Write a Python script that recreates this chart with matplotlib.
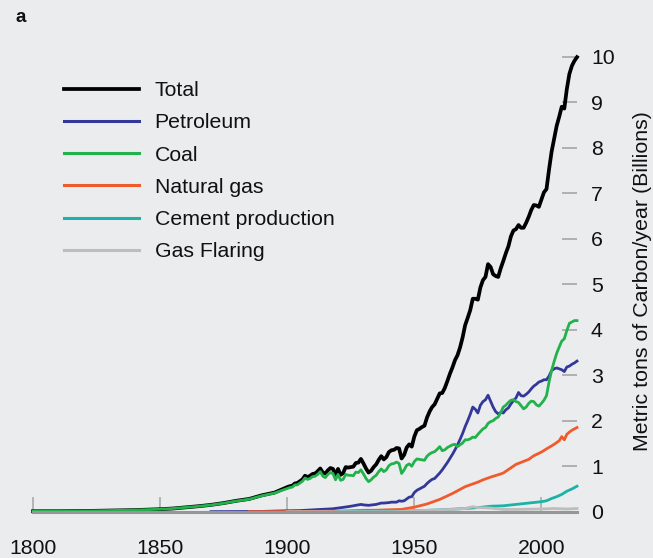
import matplotlib
matplotlib.use("Agg")
import matplotlib.pyplot as plt

plt.rcParams['font.family'] = ['Liberation Sans', 'DejaVu Sans']

# ---------------- data (billions of metric tons of carbon / year) ----------------
early_years = [1800, 1810, 1820, 1830, 1840, 1850, 1855, 1860, 1865, 1870, 1875, 1880, 1885, 1890, 1895]
annual_years = list(range(1900, 2015))

total_early = [0.01, 0.01, 0.015, 0.025, 0.035, 0.055, 0.07, 0.095, 0.12, 0.15, 0.19, 0.24, 0.28, 0.36, 0.42]
total_annual = [
    0.54, 0.56, 0.57, 0.62, 0.63, 0.67, 0.71, 0.79, 0.76, 0.79,
    0.83, 0.84, 0.89, 0.95, 0.86, 0.84, 0.91, 0.96, 0.94, 0.81,
    0.94, 0.81, 0.85, 0.98, 0.97, 0.98, 0.99, 1.07, 1.08, 1.16,
    1.06, 0.95, 0.86, 0.90, 0.98, 1.04, 1.14, 1.22, 1.15, 1.20,
    1.31, 1.35, 1.36, 1.40, 1.39, 1.17, 1.25, 1.41, 1.48, 1.43,
    1.65, 1.79, 1.82, 1.86, 1.89, 2.07, 2.20, 2.30, 2.36, 2.48,
    2.60, 2.61, 2.72, 2.87, 3.03, 3.17, 3.33, 3.44, 3.61, 3.83,
    4.10, 4.26, 4.43, 4.68, 4.68, 4.66, 4.93, 5.09, 5.16, 5.44,
    5.38, 5.22, 5.18, 5.16, 5.35, 5.51, 5.68, 5.83, 6.05, 6.18,
    6.21, 6.30, 6.24, 6.24, 6.35, 6.48, 6.63, 6.74, 6.73, 6.70,
    6.86, 7.02, 7.09, 7.52, 7.91, 8.20, 8.48, 8.68, 8.90, 8.86,
    9.29, 9.62, 9.80, 9.91, 9.99]

coal_early = [0.01, 0.01, 0.015, 0.025, 0.035, 0.055, 0.07, 0.094, 0.118, 0.147, 0.186, 0.235, 0.274, 0.35, 0.41]
coal_annual = [
    0.51, 0.53, 0.54, 0.59, 0.59, 0.63, 0.67, 0.74, 0.71, 0.73,
    0.77, 0.78, 0.82, 0.88, 0.78, 0.75, 0.82, 0.86, 0.84, 0.70,
    0.82, 0.69, 0.71, 0.82, 0.80, 0.80, 0.79, 0.87, 0.86, 0.92,
    0.83, 0.73, 0.66, 0.70, 0.76, 0.80, 0.88, 0.94, 0.88, 0.92,
    1.01, 1.05, 1.06, 1.09, 1.06, 0.84, 0.92, 1.02, 1.05, 1.00,
    1.10, 1.16, 1.15, 1.14, 1.13, 1.22, 1.27, 1.30, 1.32, 1.37,
    1.43, 1.34, 1.36, 1.41, 1.44, 1.47, 1.48, 1.43, 1.47, 1.51,
    1.58, 1.58, 1.60, 1.64, 1.63, 1.70, 1.76, 1.82, 1.85, 1.94,
    1.98, 2.00, 2.05, 2.08, 2.18, 2.30, 2.34, 2.40, 2.45, 2.46,
    2.42, 2.40, 2.33, 2.26, 2.30, 2.38, 2.43, 2.42, 2.35, 2.32,
    2.38, 2.45, 2.55, 2.85, 3.10, 3.30, 3.48, 3.62, 3.75, 3.80,
    3.98, 4.14, 4.17, 4.20, 4.20]

petroleum_years = [1870, 1880, 1890, 1900, 1905, 1910, 1913, 1915, 1918, 1920, 1922, 1925, 1928,
                   1929, 1930, 1932, 1935, 1937, 1938, 1940, 1941, 1943, 1944, 1945, 1946, 1947,
                   1948, 1949, 1950, 1951, 1952, 1953, 1954, 1955, 1956, 1957, 1958, 1959, 1960,
                   1961, 1962, 1963, 1964, 1965, 1966, 1967, 1968, 1969, 1970, 1971, 1972, 1973,
                   1974, 1975, 1976, 1977, 1978, 1979, 1980, 1981, 1982, 1983, 1984, 1985, 1986,
                   1987, 1988, 1989, 1990, 1991, 1992, 1993, 1994, 1995, 1996, 1997, 1998, 1999,
                   2000, 2001, 2002, 2003, 2004, 2005, 2006, 2007, 2008, 2009, 2010, 2011, 2012,
                   2013, 2014]
petroleum_vals = [0.001, 0.003, 0.006, 0.02, 0.025, 0.04, 0.05, 0.055, 0.065, 0.08, 0.095, 0.12, 0.15,
                  0.16, 0.15, 0.14, 0.16, 0.19, 0.19, 0.20, 0.21, 0.21, 0.24, 0.23, 0.24, 0.28,
                  0.32, 0.33, 0.42, 0.47, 0.50, 0.53, 0.56, 0.62, 0.67, 0.71, 0.73, 0.79, 0.85,
                  0.92, 1.00, 1.08, 1.17, 1.26, 1.36, 1.47, 1.59, 1.72, 1.87, 2.00, 2.14, 2.30,
                  2.25, 2.17, 2.34, 2.42, 2.46, 2.56, 2.43, 2.30, 2.20, 2.15, 2.18, 2.17, 2.24,
                  2.28, 2.37, 2.44, 2.50, 2.62, 2.55, 2.54, 2.58, 2.63, 2.70, 2.76, 2.80, 2.85,
                  2.87, 2.90, 2.90, 2.98, 3.10, 3.14, 3.16, 3.14, 3.12, 3.08, 3.18, 3.20, 3.24,
                  3.27, 3.31]

gas_years = [1885, 1900, 1910, 1920, 1925, 1930, 1935, 1940, 1945, 1950, 1955, 1960, 1965, 1970,
             1975, 1977, 1980, 1984, 1985, 1990, 1995, 1997, 2000, 2002, 2005, 2007, 2008, 2009,
             2010, 2011, 2012, 2013, 2014]
gas_vals = [0.001, 0.003, 0.008, 0.013, 0.02, 0.03, 0.032, 0.042, 0.05, 0.10, 0.17, 0.27, 0.40, 0.55,
            0.65, 0.70, 0.76, 0.83, 0.85, 1.04, 1.15, 1.23, 1.31, 1.38, 1.48, 1.56, 1.65, 1.58,
            1.70, 1.75, 1.79, 1.82, 1.85]

cement_years = [1920, 1930, 1940, 1950, 1960, 1970, 1975, 1980, 1985, 1990, 1995, 2000, 2002,
                2004, 2006, 2008, 2010, 2012, 2014]
cement_vals = [0.005, 0.01, 0.01, 0.02, 0.04, 0.07, 0.09, 0.12, 0.13, 0.16, 0.19, 0.22, 0.24,
               0.29, 0.33, 0.38, 0.45, 0.50, 0.56]

flaring_years = [1900, 1940, 1945, 1950, 1955, 1960, 1965, 1970, 1973, 1975, 1980, 1985, 1990,
                 2000, 2005, 2010, 2014]
flaring_vals = [0.0, 0.0, 0.005, 0.02, 0.03, 0.04, 0.05, 0.07, 0.11, 0.09, 0.08, 0.05, 0.05,
                0.06, 0.07, 0.06, 0.07]

x_ticks = [1800, 1850, 1900, 1950, 2000]
y_ticks = list(range(0, 11))

# ---------------- figure ----------------
BG = '#EBECEE'
fig = plt.figure(figsize=(6.53, 5.58), dpi=100, facecolor=BG)
ax = fig.add_axes([33 / 653, 46.3 / 558, 544 / 653, 455 / 558], facecolor=BG)

lw = 2.0
ax.plot(early_years + annual_years, total_early + total_annual, color='#000000', lw=2.7,
        label='Total', clip_on=False)
ax.plot(petroleum_years, petroleum_vals, color='#34379A', lw=lw, label='Petroleum', clip_on=False)
ax.plot(early_years + annual_years, coal_early + coal_annual, color='#21B24B', lw=lw,
        label='Coal', clip_on=False)
ax.plot(gas_years, gas_vals, color='#F15A2B', lw=lw, label='Natural gas', clip_on=False)
ax.plot(cement_years, cement_vals, color='#1CB3A7', lw=lw, label='Cement production', clip_on=False)
ax.plot(flaring_years, flaring_vals, color='#BDBDBD', lw=lw, label='Gas Flaring', clip_on=False)

ax.set_xlim(1800, 2014)
ax.set_ylim(0, 10)

for s in ['top', 'left', 'right']:
    ax.spines[s].set_visible(False)
ax.spines['bottom'].set_color('#969696')
ax.spines['bottom'].set_linewidth(2.2)

ax.set_xticks(x_ticks)
ax.set_xticklabels([str(v) for v in x_ticks])
ax.set_yticks(y_ticks)
ax.set_yticklabels([str(v) for v in y_ticks])
ax.yaxis.tick_right()
ax.tick_params(axis='x', direction='in', length=11, width=1.2, color='#ABABAB', pad=20,
               labelsize=15.3, labelcolor='#111111')
ax.tick_params(axis='y', direction='in', length=11, width=1.3, color='#ABABAB', pad=10,
               labelsize=15.3, labelcolor='#111111')

fig.text(642.7 / 653, 1 - 281 / 558, 'Metric tons of Carbon/year (Billions)', rotation=90,
         ha='center', va='center', fontsize=15.4, color='#111111')

fig.text(21 / 653, 1 - 17 / 558, 'a', fontsize=13.5, fontweight='bold', ha='center', va='center',
         color='#111111')

leg = ax.legend(loc='upper left', bbox_to_anchor=(64 / 653, 1 - 81 / 558),
                bbox_transform=fig.transFigure, frameon=False, fontsize=15.3,
                handlelength=3.55, handletextpad=0.72, labelspacing=0.625, borderpad=0,
                borderaxespad=0)
for t in leg.get_texts():
    t.set_color('#111111')
for h in leg.get_lines():
    h.set_linewidth(2.7 if h.get_label() == 'Total' else 2.2)

fig.savefig('out.png', dpi=100, facecolor=BG)
